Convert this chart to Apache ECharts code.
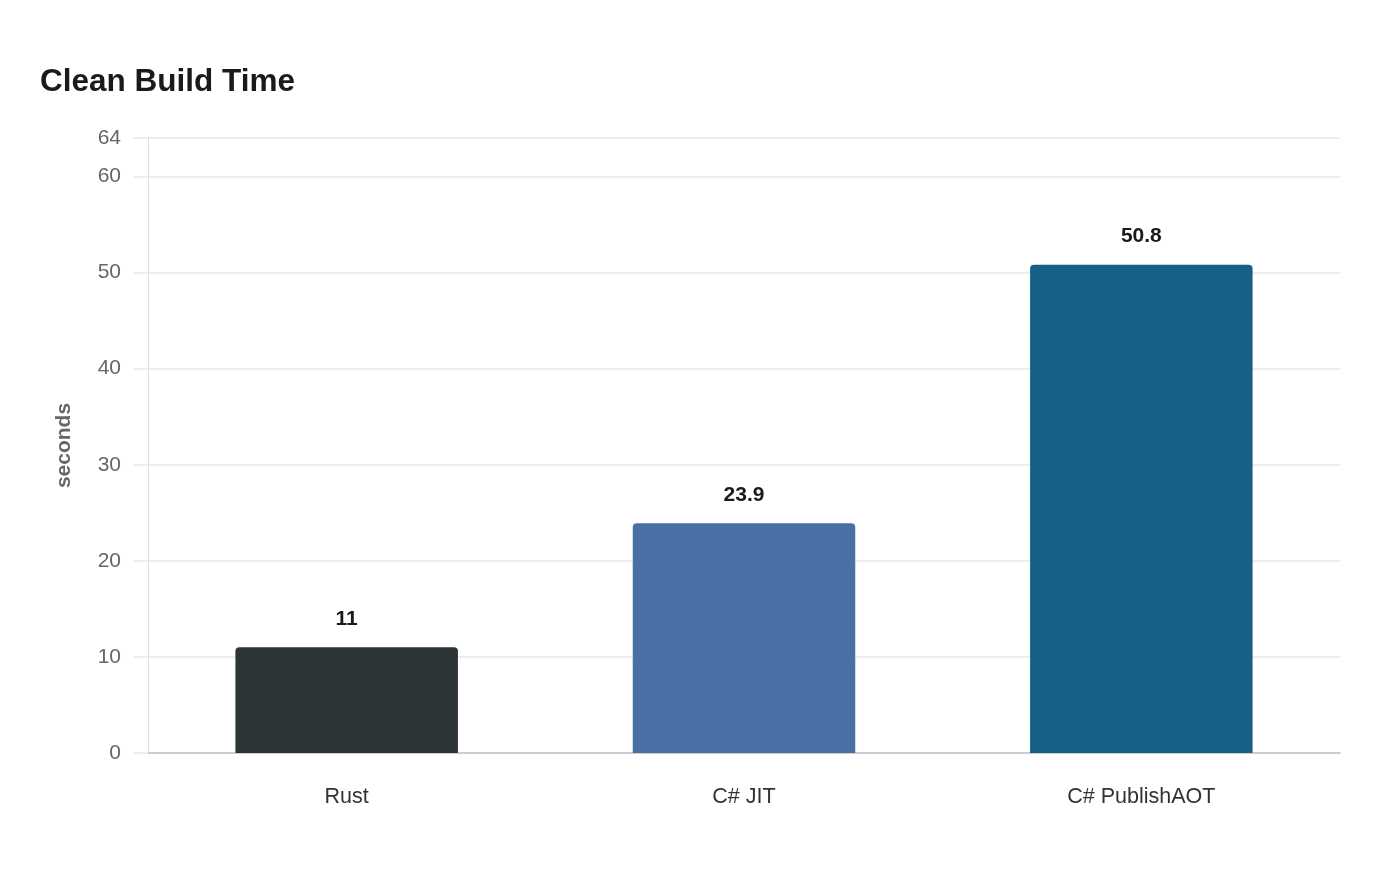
<!DOCTYPE html>
<html>
<head>
<meta charset="utf-8">
<title>Clean Build Time</title>
<script src="https://cdn.jsdelivr.net/npm/echarts@6/dist/echarts.min.js"></script>
<style>
  html, body { margin: 0; padding: 0; background: #fff; }
  #chart { width: 1400px; height: 880px; }
</style>
</head>
<body>
<div id="chart"></div>
<script>
const categories = ['Rust', 'C# JIT', 'C# PublishAOT']
const buildSeconds = [11, 23.9, 50.8]
const barColors = ['#2d3436', '#4a6fa5', '#166088']

const chart = echarts.init(document.getElementById('chart'))

const option = {
  backgroundColor: '#fff',
  title: {
    text: 'Clean Build Time',
    left: 35,
    top: 61,
    textStyle: {
      fontFamily: 'Liberation Sans, Arial, sans-serif',
      fontSize: 31.5,
      fontWeight: 'bold',
      color: '#1a1a1a'
    }
  },
  grid: {
    left: 148,
    right: 60,
    top: 138,
    bottom: 127,
    containLabel: false
  },
  xAxis: {
    type: 'category',
    data: categories,
    axisLine: { show: true, lineStyle: { color: '#cccccc', width: 2 } },
    axisTick: { show: false },
    axisLabel: {
      margin: 33,
      fontFamily: 'Liberation Sans, Arial, sans-serif',
      fontSize: 21.5,
      color: '#333'
    }
  },
  yAxis: {
    type: 'value',
    min: 0,
    max: 64,
    interval: 10,
    name: 'seconds',
    nameLocation: 'middle',
    nameGap: 73,
    nameTextStyle: {
      fontFamily: 'Liberation Sans, Arial, sans-serif',
      fontSize: 21,
      fontWeight: 'bold',
      color: '#666'
    },
    axisLine: { show: true, lineStyle: { color: '#dddddd', width: 1 } },
    axisTick: { show: true, length: 15, lineStyle: { color: '#eeeeee', width: 2 } },
    axisLabel: {
      margin: 27,
      fontFamily: 'Liberation Sans, Arial, sans-serif',
      fontSize: 21,
      color: '#666'
    },
    splitLine: { lineStyle: { color: '#eeeeee', width: 2 } }
  },
  series: [
    {
      type: 'bar',
      data: buildSeconds.map((v, i) => ({
        value: v,
        itemStyle: { color: barColors[i] }
      })),
      barWidth: '56%',
      itemStyle: { borderRadius: [4, 4, 0, 0] },
      label: {
        show: true,
        position: 'top',
        distance: 18,
        fontFamily: 'Liberation Sans, Arial, sans-serif',
        fontSize: 21,
        fontWeight: 'bold',
        color: '#1a1a1a'
      }
    }
  ]
}

chart.setOption(option)

window.onresize = () => {
  chart.resize()
}
</script>
</body>
</html>
